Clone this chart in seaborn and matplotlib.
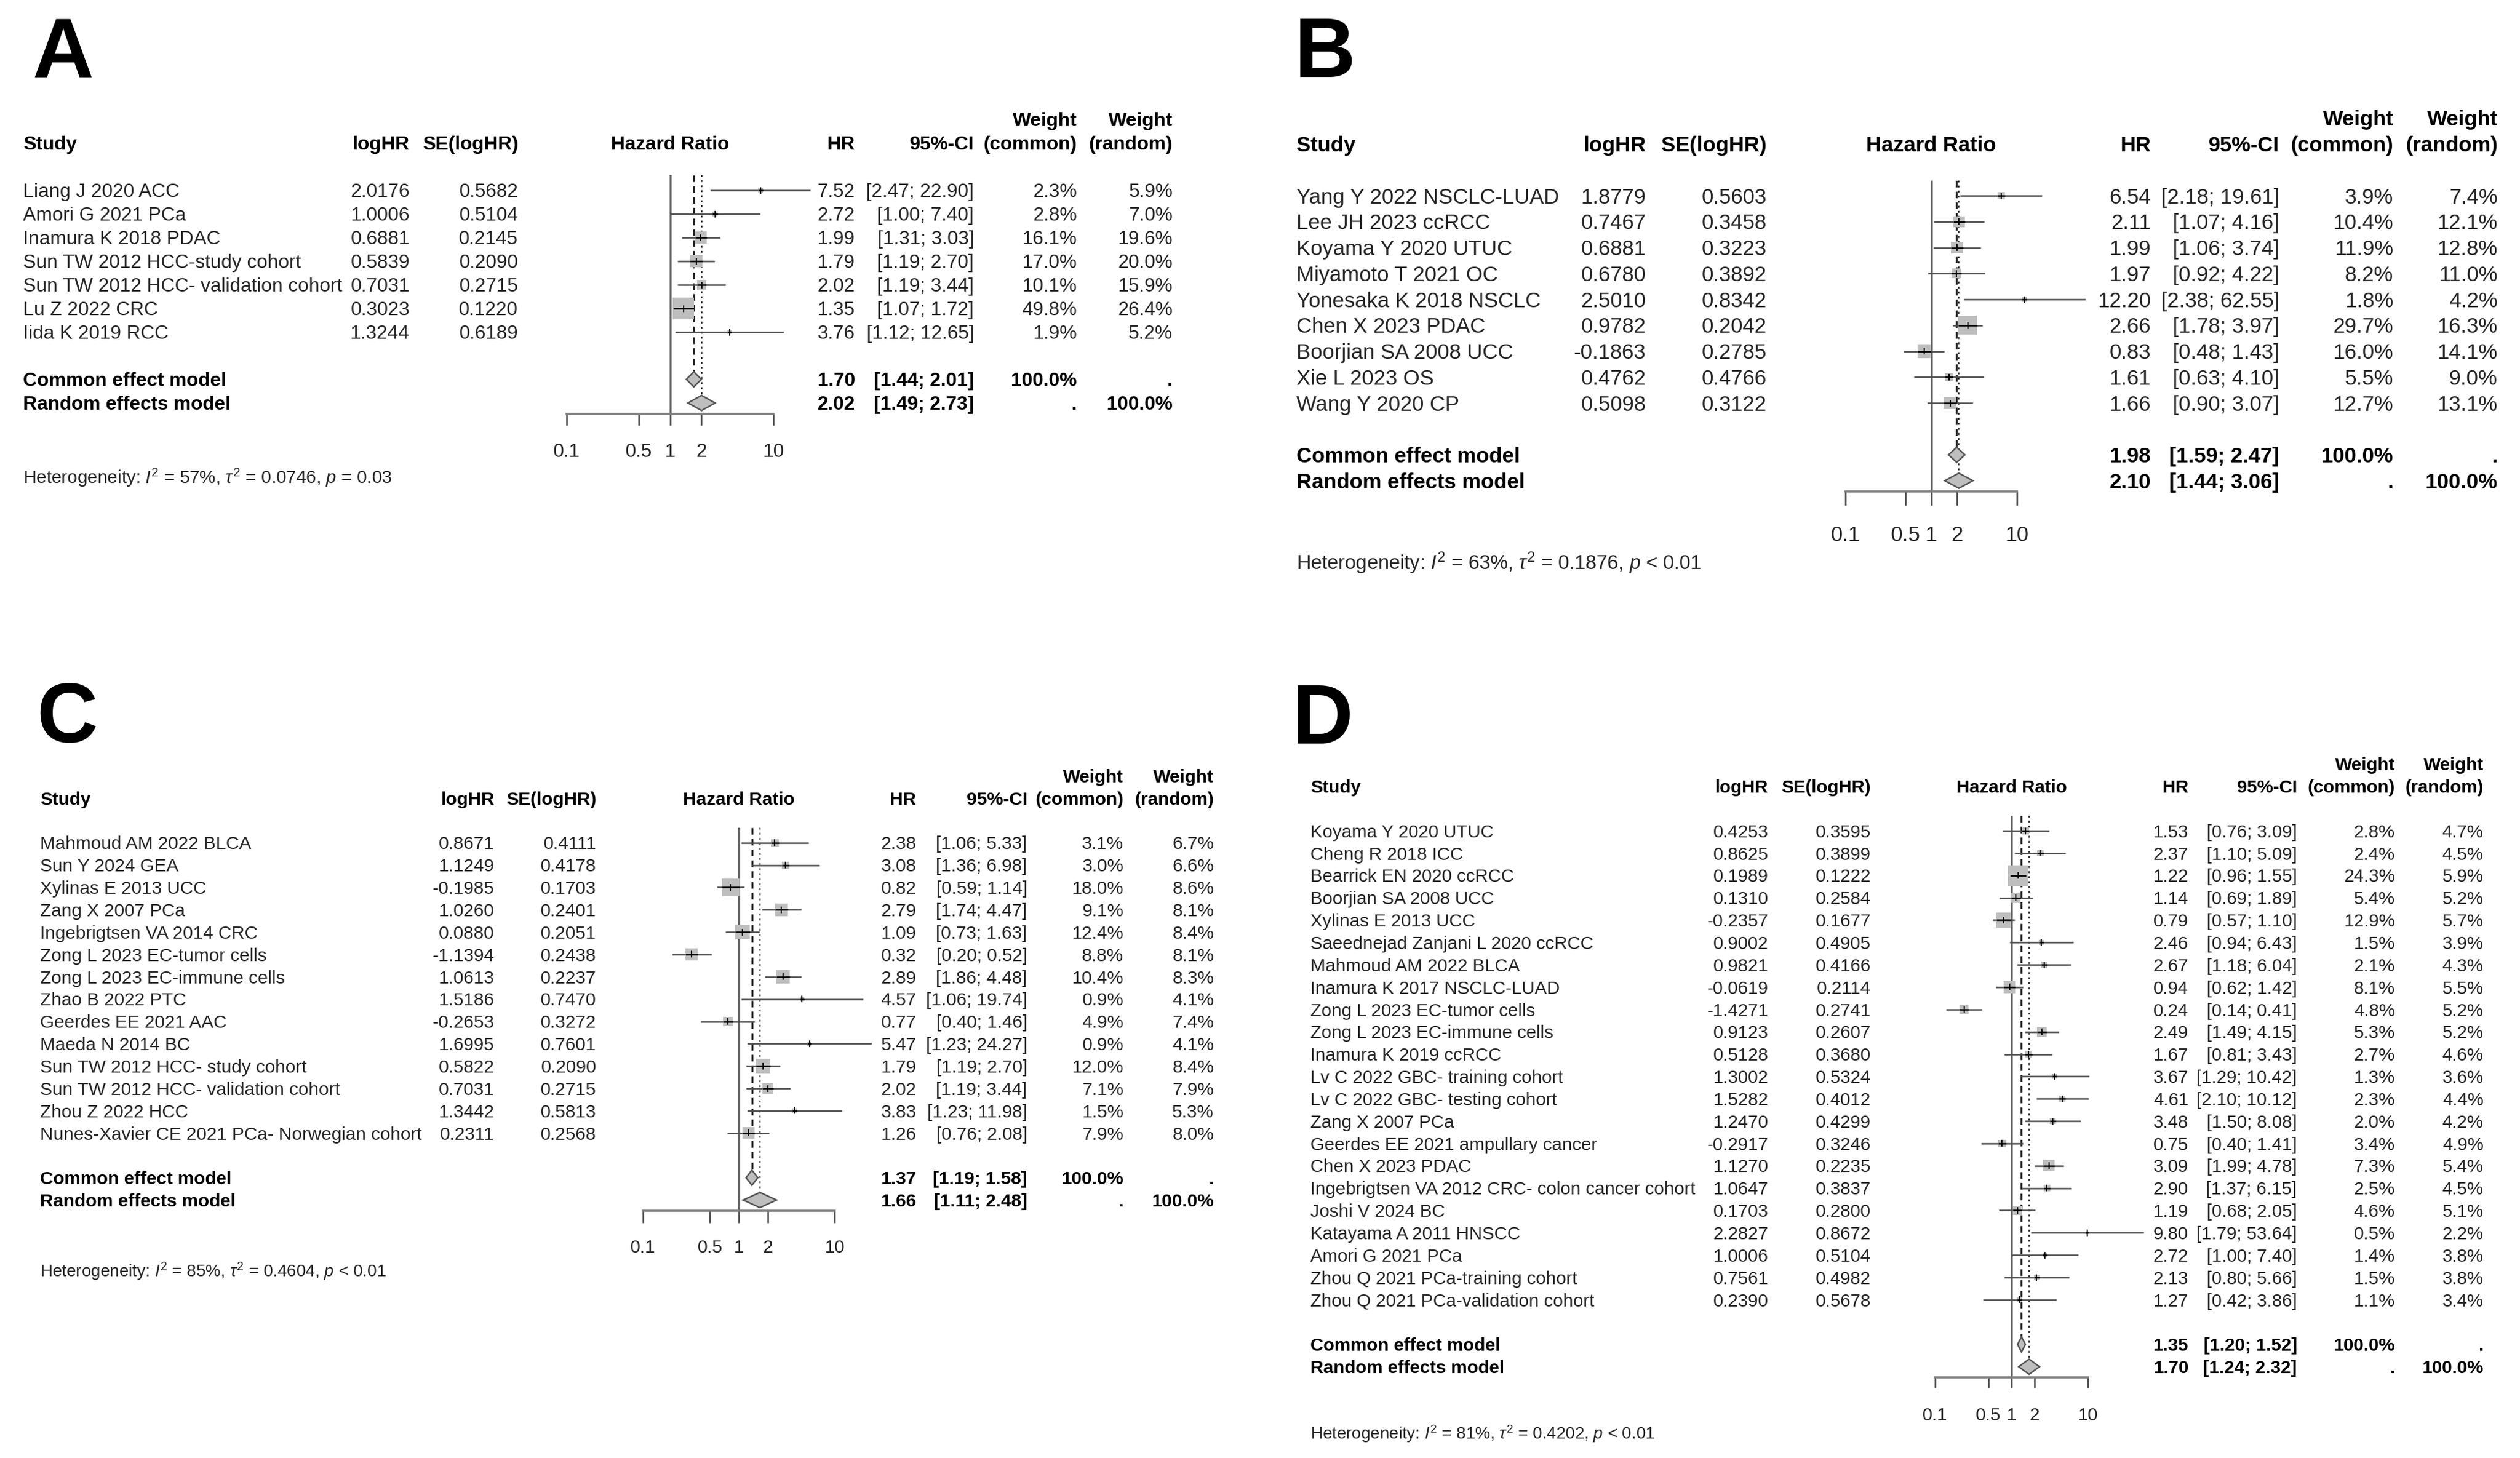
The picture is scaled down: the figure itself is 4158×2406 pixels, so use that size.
import numpy as np
import pandas as pd
import matplotlib
matplotlib.use("Agg")
import matplotlib.pyplot as plt
from matplotlib.ticker import NullLocator, FixedLocator, FixedFormatter
import seaborn as sns

# ------------------------------------------------------------------ data
# Panel A
a_study = ["Liang J 2020 ACC", "Amori G 2021 PCa", "Inamura K 2018 PDAC",
           "Sun TW 2012 HCC-study cohort", "Sun TW 2012 HCC- validation cohort",
           "Lu Z 2022 CRC", "Iida K 2019 RCC"]
a_loghr = [2.0176, 1.0006, 0.6881, 0.5839, 0.7031, 0.3023, 1.3244]
a_se = [0.5682, 0.5104, 0.2145, 0.2090, 0.2715, 0.1220, 0.6189]
a_hr = [7.52, 2.72, 1.99, 1.79, 2.02, 1.35, 3.76]
a_lo = [2.47, 1.00, 1.31, 1.19, 1.19, 1.07, 1.12]
a_hi = [22.90, 7.40, 3.03, 2.70, 3.44, 1.72, 12.65]
a_wc = [2.3, 2.8, 16.1, 17.0, 10.1, 49.8, 1.9]
a_wr = [5.9, 7.0, 19.6, 20.0, 15.9, 26.4, 5.2]
a_common = [1.70, 1.44, 2.01]
a_random = [2.02, 1.49, 2.73]
a_het = ["57%", "0.0746", "= 0.03"]

# Panel B
b_study = ["Yang Y 2022 NSCLC-LUAD", "Lee JH 2023 ccRCC", "Koyama Y 2020 UTUC",
           "Miyamoto T 2021 OC", "Yonesaka K 2018 NSCLC", "Chen X 2023 PDAC",
           "Boorjian SA 2008 UCC", "Xie L 2023 OS", "Wang Y 2020 CP"]
b_loghr = [1.8779, 0.7467, 0.6881, 0.6780, 2.5010, 0.9782, -0.1863, 0.4762, 0.5098]
b_se = [0.5603, 0.3458, 0.3223, 0.3892, 0.8342, 0.2042, 0.2785, 0.4766, 0.3122]
b_hr = [6.54, 2.11, 1.99, 1.97, 12.20, 2.66, 0.83, 1.61, 1.66]
b_lo = [2.18, 1.07, 1.06, 0.92, 2.38, 1.78, 0.48, 0.63, 0.90]
b_hi = [19.61, 4.16, 3.74, 4.22, 62.55, 3.97, 1.43, 4.10, 3.07]
b_wc = [3.9, 10.4, 11.9, 8.2, 1.8, 29.7, 16.0, 5.5, 12.7]
b_wr = [7.4, 12.1, 12.8, 11.0, 4.2, 16.3, 14.1, 9.0, 13.1]
b_common = [1.98, 1.59, 2.47]
b_random = [2.10, 1.44, 3.06]
b_het = ["63%", "0.1876", "< 0.01"]

# Panel C
c_study = ["Mahmoud AM 2022 BLCA", "Sun Y 2024 GEA", "Xylinas E 2013 UCC",
           "Zang X 2007 PCa", "Ingebrigtsen VA 2014 CRC", "Zong L 2023 EC-tumor cells",
           "Zong L 2023 EC-immune cells", "Zhao B 2022 PTC", "Geerdes EE 2021 AAC",
           "Maeda N 2014 BC", "Sun TW 2012 HCC- study cohort",
           "Sun TW 2012 HCC- validation cohort", "Zhou Z 2022 HCC",
           "Nunes-Xavier CE 2021 PCa- Norwegian cohort"]
c_loghr = [0.8671, 1.1249, -0.1985, 1.0260, 0.0880, -1.1394, 1.0613, 1.5186,
           -0.2653, 1.6995, 0.5822, 0.7031, 1.3442, 0.2311]
c_se = [0.4111, 0.4178, 0.1703, 0.2401, 0.2051, 0.2438, 0.2237, 0.7470,
        0.3272, 0.7601, 0.2090, 0.2715, 0.5813, 0.2568]
c_hr = [2.38, 3.08, 0.82, 2.79, 1.09, 0.32, 2.89, 4.57, 0.77, 5.47, 1.79, 2.02, 3.83, 1.26]
c_lo = [1.06, 1.36, 0.59, 1.74, 0.73, 0.20, 1.86, 1.06, 0.40, 1.23, 1.19, 1.19, 1.23, 0.76]
c_hi = [5.33, 6.98, 1.14, 4.47, 1.63, 0.52, 4.48, 19.74, 1.46, 24.27, 2.70, 3.44, 11.98, 2.08]
c_wc = [3.1, 3.0, 18.0, 9.1, 12.4, 8.8, 10.4, 0.9, 4.9, 0.9, 12.0, 7.1, 1.5, 7.9]
c_wr = [6.7, 6.6, 8.6, 8.1, 8.4, 8.1, 8.3, 4.1, 7.4, 4.1, 8.4, 7.9, 5.3, 8.0]
c_common = [1.37, 1.19, 1.58]
c_random = [1.66, 1.11, 2.48]
c_het = ["85%", "0.4604", "< 0.01"]

# Panel D
d_study = ["Koyama Y 2020 UTUC", "Cheng R 2018 ICC", "Bearrick EN 2020 ccRCC",
           "Boorjian SA 2008 UCC", "Xylinas E 2013 UCC", "Saeednejad Zanjani L 2020 ccRCC",
           "Mahmoud AM 2022 BLCA", "Inamura K 2017 NSCLC-LUAD", "Zong L 2023 EC-tumor cells",
           "Zong L 2023 EC-immune cells", "Inamura K 2019 ccRCC",
           "Lv C 2022 GBC- training cohort", "Lv C 2022 GBC- testing cohort",
           "Zang X 2007 PCa", "Geerdes EE 2021 ampullary cancer", "Chen X 2023 PDAC",
           "Ingebrigtsen VA 2012 CRC- colon cancer cohort", "Joshi V 2024 BC",
           "Katayama A 2011 HNSCC", "Amori G 2021 PCa", "Zhou Q 2021 PCa-training cohort",
           "Zhou Q 2021 PCa-validation cohort"]
d_loghr = [0.4253, 0.8625, 0.1989, 0.1310, -0.2357, 0.9002, 0.9821, -0.0619, -1.4271,
           0.9123, 0.5128, 1.3002, 1.5282, 1.2470, -0.2917, 1.1270, 1.0647, 0.1703,
           2.2827, 1.0006, 0.7561, 0.2390]
d_se = [0.3595, 0.3899, 0.1222, 0.2584, 0.1677, 0.4905, 0.4166, 0.2114, 0.2741,
        0.2607, 0.3680, 0.5324, 0.4012, 0.4299, 0.3246, 0.2235, 0.3837, 0.2800,
        0.8672, 0.5104, 0.4982, 0.5678]
d_hr = [1.53, 2.37, 1.22, 1.14, 0.79, 2.46, 2.67, 0.94, 0.24, 2.49, 1.67, 3.67, 4.61,
        3.48, 0.75, 3.09, 2.90, 1.19, 9.80, 2.72, 2.13, 1.27]
d_lo = [0.76, 1.10, 0.96, 0.69, 0.57, 0.94, 1.18, 0.62, 0.14, 1.49, 0.81, 1.29, 2.10,
        1.50, 0.40, 1.99, 1.37, 0.68, 1.79, 1.00, 0.80, 0.42]
d_hi = [3.09, 5.09, 1.55, 1.89, 1.10, 6.43, 6.04, 1.42, 0.41, 4.15, 3.43, 10.42, 10.12,
        8.08, 1.41, 4.78, 6.15, 2.05, 53.64, 7.40, 5.66, 3.86]
d_wc = [2.8, 2.4, 24.3, 5.4, 12.9, 1.5, 2.1, 8.1, 4.8, 5.3, 2.7, 1.3, 2.3, 2.0, 3.4,
        7.3, 2.5, 4.6, 0.5, 1.4, 1.5, 1.1]
d_wr = [4.7, 4.5, 5.9, 5.2, 5.7, 3.9, 4.3, 5.5, 5.2, 5.2, 4.6, 3.6, 4.4, 4.2, 4.9,
        5.4, 4.5, 5.1, 2.2, 3.8, 3.8, 3.4]
d_common = [1.35, 1.20, 1.52]
d_random = [1.70, 1.24, 2.32]
d_het = ["81%", "0.4202", "< 0.01"]

tick_vals = [0.1, 0.5, 1, 2, 10]
tick_labels = ["0.1", "0.5", "1", "2", "10"]
panel_letters = ["A", "B", "C", "D"]

# ------------------------------------------------------------------ layout (pixels)
W, H = 4158, 2406
DPI = 300
PT = 72.0 / DPI  # points per pixel

layouts = {
    "A": dict(letter=(54, 128), study=38, lhr=676, se=855, hr=1411, ci=1607, wc=1777, wr=1935,
              x01=935, x10=1276, row0=314, dy=39.0, em=32.0, k=4.96, het=787,
              tl=19, lab=60),
    "B": dict(letter=(2136, 127), study=2139, lhr=2716, se=2915, hr=3549, ci=3761, wc=3949, wr=4121,
              x01=3045, x10=3328, row0=323, dy=42.75, em=35.2, k=5.7, het=928,
              tl=23, lab=69),
    "C": dict(letter=(60, 1225), study=66, lhr=816, se=984, hr=1512, ci=1695, wc=1854, wr=2003,
              x01=1061, x10=1377, row0=1390.7, dy=36.85, em=30.1, k=6.9, het=2097,
              tl=20, lab=58),
    "D": dict(letter=(2132, 1227), study=2162, lhr=2918, se=3087, hr=3611, ci=3790, wc=3952, wr=4098,
              x01=3193, x10=3445, row0=1371, dy=36.85, em=29.9, k=6.9, het=2365,
              tl=17, lab=60),
}

panels = {
    "A": dict(study=a_study, loghr=a_loghr, se=a_se, hr=a_hr, lo=a_lo, hi=a_hi, wc=a_wc, wr=a_wr,
              common=a_common, random=a_random, het=a_het),
    "B": dict(study=b_study, loghr=b_loghr, se=b_se, hr=b_hr, lo=b_lo, hi=b_hi, wc=b_wc, wr=b_wr,
              common=b_common, random=b_random, het=b_het),
    "C": dict(study=c_study, loghr=c_loghr, se=c_se, hr=c_hr, lo=c_lo, hi=c_hi, wc=c_wc, wr=c_wr,
              common=c_common, random=c_random, het=c_het),
    "D": dict(study=d_study, loghr=d_loghr, se=d_se, hr=d_hr, lo=d_lo, hi=d_hi, wc=d_wc, wr=d_wr,
              common=d_common, random=d_random, het=d_het),
}

# ------------------------------------------------------------------ style
sns.set_theme(style="white")
plt.rcParams["font.family"] = ["Liberation Sans", "DejaVu Sans"]
plt.rcParams["mathtext.fontset"] = "custom"
plt.rcParams["mathtext.rm"] = "Liberation Sans"
plt.rcParams["mathtext.it"] = "Liberation Sans:italic"
plt.rcParams["mathtext.bf"] = "Liberation Sans:bold"

TXT = "#262626"
SQ = "#bebebe"
LINE = "#4d4d4d"

fig = plt.figure(figsize=(W / DPI, H / DPI), dpi=DPI)
fig.patch.set_facecolor("white")
axT = fig.add_axes([0, 0, 1, 1])
axT.set_xlim(0, W)
axT.set_ylim(H, 0)
axT.axis("off")


def draw_panel(key):
    d = panels[key]
    L = layouts[key]
    n = len(d["study"])
    dy, y0, em = L["dy"], L["row0"], L["em"]
    fs = em * PT
    cidx, ridx = n + 1, n + 2

    def put(x, i, s, ha="left", bold=False, size_px=em, math=False):
        y = y0 + i * dy + 0.358 * size_px
        axT.text(x, y, s, ha=ha, va="baseline", fontsize=size_px * PT,
                 fontweight="bold" if bold else "normal",
                 color="black" if bold else TXT)

    # panel letter
    lx, ly = L["letter"]
    axT.text(lx, ly, key, ha="left", va="baseline", fontsize=139.7 * PT,
             fontweight="bold", color="black")

    # headers
    put(L["study"], -2, "Study", bold=True)
    put(L["lhr"], -2, "logHR", ha="right", bold=True)
    put(L["se"], -2, "SE(logHR)", ha="right", bold=True)
    put((L["x01"] + L["x10"]) / 2, -2, "Hazard Ratio", ha="center", bold=True)
    put(L["hr"], -2, "HR", ha="right", bold=True)
    put(L["ci"], -2, "95%-CI", ha="right", bold=True)
    put(L["wc"], -3, "Weight", ha="right", bold=True)
    put(L["wr"], -3, "Weight", ha="right", bold=True)
    put(L["wc"], -2, "(common)", ha="right", bold=True)
    put(L["wr"], -2, "(random)", ha="right", bold=True)

    # study rows
    for i in range(n):
        put(L["study"], i, d["study"][i])
        put(L["lhr"], i, f"{d['loghr'][i]:.4f}", ha="right")
        put(L["se"], i, f"{d['se'][i]:.4f}", ha="right")
        put(L["hr"], i, f"{d['hr'][i]:.2f}", ha="right")
        put(L["ci"], i, f"[{d['lo'][i]:.2f}; {d['hi'][i]:.2f}]", ha="right")
        put(L["wc"], i, f"{d['wc'][i]:.1f}%", ha="right")
        put(L["wr"], i, f"{d['wr'][i]:.1f}%", ha="right")

    # model rows
    cm, rm = d["common"], d["random"]
    put(L["study"], cidx, "Common effect model", bold=True)
    put(L["study"], ridx, "Random effects model", bold=True)
    put(L["hr"], cidx, f"{cm[0]:.2f}", ha="right", bold=True)
    put(L["hr"], ridx, f"{rm[0]:.2f}", ha="right", bold=True)
    put(L["ci"], cidx, f"[{cm[1]:.2f}; {cm[2]:.2f}]", ha="right", bold=True)
    put(L["ci"], ridx, f"[{rm[1]:.2f}; {rm[2]:.2f}]", ha="right", bold=True)
    put(L["wc"], cidx, "100.0%", ha="right", bold=True)
    put(L["wr"], cidx, ".", ha="right", bold=True)
    put(L["wc"], ridx, ".", ha="right", bold=True)
    put(L["wr"], ridx, "100.0%", ha="right", bold=True)

    # heterogeneity
    i2, tau2, pv = d["het"]
    het_em = em * 0.93
    het_txt = (r"Heterogeneity: $I^2$ = " + i2.replace("%", r"%") + r", $\tau^2$ = " + tau2
               + r", $p$ " + pv)
    axT.text(L["study"], L["het"] + 0.358 * het_em, het_txt, ha="left", va="baseline",
             fontsize=het_em * PT, color=TXT)

    # ---------------- forest axes
    top_px = y0 - 25
    bot_px = y0 + ridx * dy + 17.5
    ax = fig.add_axes([L["x01"] / W, 1 - bot_px / H,
                       (L["x10"] - L["x01"]) / W, (bot_px - top_px) / H])
    ax.patch.set_alpha(0)

    df = pd.DataFrame({"hr": d["hr"], "lo": d["lo"], "hi": d["hi"], "wc": d["wc"],
                       "row": np.arange(n)})
    side_px = L["k"] * np.sqrt(df["wc"].to_numpy())
    ppd = (L["x10"] - L["x01"]) / 2.0
    half_dec = side_px / 2.0 / ppd

    # CI lines
    ax.hlines(df["row"], df["lo"], df["hi"], color=LINE, lw=0.6, zorder=2, clip_on=False)
    # squares (seaborn)
    sns.scatterplot(data=df, x="hr", y="row", marker="s", s=(side_px * PT) ** 2,
                    color=SQ, linewidth=0, ax=ax, legend=False, zorder=3, clip_on=False)
    # black segment inside squares and estimate tick
    seg_lo = np.maximum(df["lo"].to_numpy(), df["hr"].to_numpy() * 10 ** (-half_dec))
    seg_hi = np.minimum(df["hi"].to_numpy(), df["hr"].to_numpy() * 10 ** (half_dec))
    ax.hlines(df["row"], seg_lo, seg_hi, color="black", lw=0.6, zorder=4, clip_on=False)
    ax.vlines(df["hr"], df["row"] - 5.5 / dy, df["row"] + 5.5 / dy, color="black",
              lw=0.5, zorder=4, clip_on=False)

    ax.set_xscale("log")
    ax.set_xlim(0.1, 10)
    ylo = (bot_px - y0) / dy
    yhi = (top_px - y0) / dy
    ax.set_ylim(ylo, yhi)

    # diamonds
    h = 12.5 / dy
    for (est, lo, hi), idx in ((cm, cidx), (rm, ridx)):
        ax.fill([lo, est, hi, est], [idx, idx - h, idx, idx + h], facecolor=SQ,
                edgecolor="#555555", lw=0.6, zorder=5)
    # reference lines
    ax.axvline(1, color="#666666", lw=0.8, zorder=1)
    ax.vlines(cm[0], yhi, cidx - h, color="#222222", lw=0.75,
              linestyles=(0, (3.5, 2.2)), zorder=1)
    ax.vlines(rm[0], yhi, ridx - h, color="#333333", lw=0.5,
              linestyles=(0, (1.5, 2.5)), zorder=1)

    # axis
    for s in ("top", "left", "right"):
        ax.spines[s].set_visible(False)
    ax.spines["bottom"].set_color("#7f7f7f")
    ax.spines["bottom"].set_linewidth(0.85)
    ax.set_yticks([])
    ax.xaxis.set_major_locator(FixedLocator(tick_vals))
    ax.xaxis.set_major_formatter(FixedFormatter(tick_labels))
    ax.xaxis.set_minor_locator(NullLocator())
    pad_px = L["lab"] - L["tl"] - 0.358 * em
    ax.tick_params(axis="x", which="major", direction="out", bottom=True,
                   length=L["tl"] * PT, width=0.6, color="#444444",
                   pad=pad_px * PT, labelsize=fs, labelcolor=TXT)
    ax.set_xlabel("")
    ax.set_ylabel("")


for key in panel_letters:
    draw_panel(key)

fig.savefig("out.png", dpi=DPI, facecolor="white")
